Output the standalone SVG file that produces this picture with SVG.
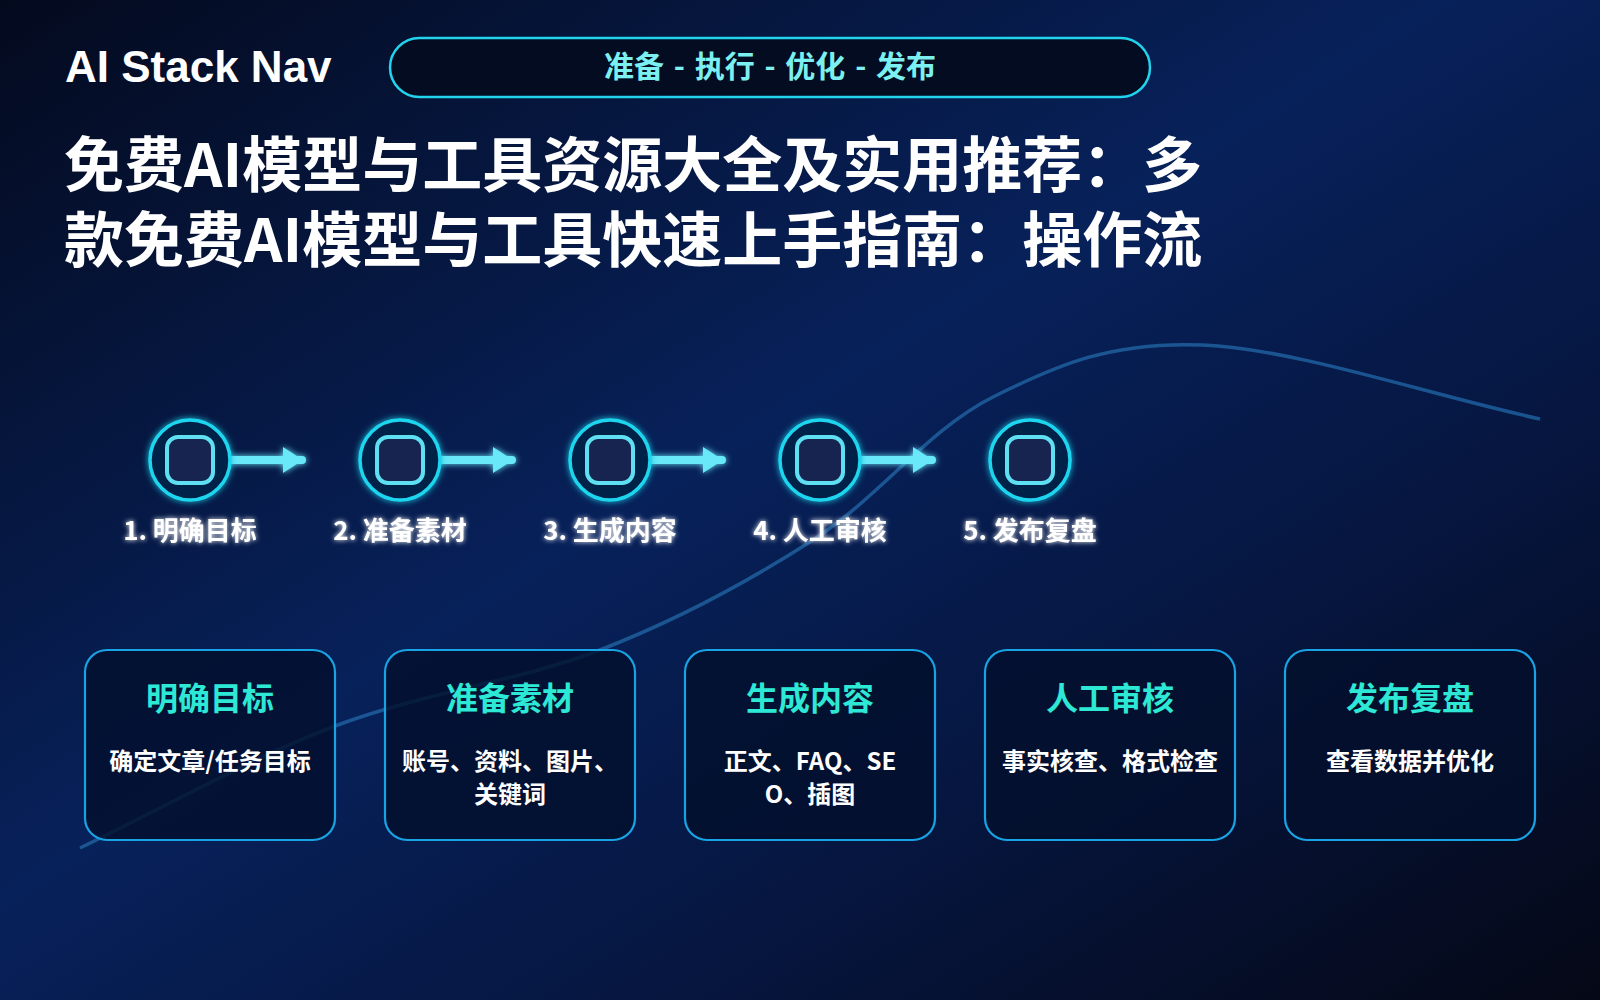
<svg xmlns="http://www.w3.org/2000/svg" width="1600" height="1000" viewBox="0 0 1600 1000">
<defs>
<linearGradient id="bg" x1="0" y1="0" x2="1" y2="1" gradientUnits="objectBoundingBox">
<stop offset="0" stop-color="#040a1e"/>
<stop offset="0.45" stop-color="#07215a"/>
<stop offset="0.7" stop-color="#061640"/>
<stop offset="1" stop-color="#050816"/>
</linearGradient>
<linearGradient id="rule" x1="0" y1="0" x2="1" y2="0">
<stop offset="0" stop-color="#22c8c8"/>
<stop offset="0.6" stop-color="#3a8fd8"/>
<stop offset="1" stop-color="#8a68d8"/>
</linearGradient>
<filter id="glow" x="-50%" y="-50%" width="200%" height="200%">
<feGaussianBlur in="SourceGraphic" stdDeviation="3" result="b"/>
<feMerge><feMergeNode in="b"/><feMergeNode in="SourceGraphic"/></feMerge>
</filter>
<filter id="lglow" filterUnits="userSpaceOnUse" x="0" y="420" width="1600" height="80">
<feGaussianBlur in="SourceGraphic" stdDeviation="3" result="b"/>
<feMerge><feMergeNode in="b"/><feMergeNode in="SourceGraphic"/></feMerge>
</filter>
<filter id="tglow" x="-20%" y="-50%" width="140%" height="200%">
<feGaussianBlur in="SourceGraphic" stdDeviation="2.5" result="b"/>
<feMerge><feMergeNode in="b"/><feMergeNode in="SourceGraphic"/></feMerge>
</filter>
<marker id="ah" viewBox="0 0 20 26" refX="19" refY="13" markerWidth="20" markerHeight="26" markerUnits="userSpaceOnUse" orient="auto">
<path d="M0,0 L20,13 L0,26 Z" fill="#67e8f9"/>
</marker>
</defs>
<style>
.cjk{font-family:"Noto Sans CJK SC","Microsoft YaHei",sans-serif;font-weight:700}
.ring{fill:#042048;stroke:#1fd6f0;stroke-width:3.5}
.sq{fill:#17244f;stroke:#5fe0f2;stroke-width:4}
.lab{font-size:26px;fill:#ffffff;text-anchor:middle}
.card{fill:#020f2c;fill-opacity:0.8;stroke:#18a4e4;stroke-width:2.2}
.ct{font-size:32px;fill:#2ee8d6;text-anchor:middle}
.cb{font-size:24px;fill:#ffffff;text-anchor:middle}
.conn{stroke:#67e8f9;stroke-width:8;stroke-linecap:round;fill:none}
</style>
<rect x="0" y="0" width="1600" height="1000" fill="url(#bg)"/>
<path d="M80,848 C165,807.3 248.3,759 335,726 C421.7,693 520.3,681 600,650 C679.7,619 747.5,582.2 813,540 C878.5,497.8 928,429.5 993,397 C1058,364.5 1111.8,341.3 1203,345 C1294.2,348.7 1427.7,394.3 1540,419" fill="none" stroke="#1f5f9e" stroke-width="3.5" stroke-opacity="0.85"/>
<g id="header">
<text x="65" y="82" font-family="'Liberation Sans',Arial,sans-serif" font-weight="700" font-size="44" fill="#ffffff">AI Stack Nav</text>
<rect x="390" y="38" width="760" height="59" rx="29.5" fill="#040c22" stroke="#22d3ee" stroke-width="2.5"/>
<text x="770" y="77" class="cjk" font-size="30" fill="#7cf0f0" text-anchor="middle" word-spacing="3">准备 - 执行 - 优化 - 发布</text>
</g>
<g id="title" class="cjk" font-size="60" fill="#ffffff">
<text x="64" y="187">免费AI模型与工具资源大全及实用推荐：多</text>
<text x="64" y="262">款免费AI模型与工具快速上手指南：操作流</text>
</g>
<g id="connectors" filter="url(#lglow)">
<line class="conn" x1="226" y1="460" x2="302" y2="460" marker-end="url(#ah)"/>
<line class="conn" x1="436" y1="460" x2="512" y2="460" marker-end="url(#ah)"/>
<line class="conn" x1="646" y1="460" x2="722" y2="460" marker-end="url(#ah)"/>
<line class="conn" x1="856" y1="460" x2="932" y2="460" marker-end="url(#ah)"/>
</g>
<g id="step1"><circle class="ring" cx="190" cy="460" r="40" filter="url(#glow)"/><rect class="sq" x="167" y="437" width="46" height="46" rx="11"/><text class="cjk lab" x="190" y="540" filter="url(#tglow)">1. 明确目标</text></g>
<g id="step2"><circle class="ring" cx="400" cy="460" r="40" filter="url(#glow)"/><rect class="sq" x="377" y="437" width="46" height="46" rx="11"/><text class="cjk lab" x="400" y="540" filter="url(#tglow)">2. 准备素材</text></g>
<g id="step3"><circle class="ring" cx="610" cy="460" r="40" filter="url(#glow)"/><rect class="sq" x="587" y="437" width="46" height="46" rx="11"/><text class="cjk lab" x="610" y="540" filter="url(#tglow)">3. 生成内容</text></g>
<g id="step4"><circle class="ring" cx="820" cy="460" r="40" filter="url(#glow)"/><rect class="sq" x="797" y="437" width="46" height="46" rx="11"/><text class="cjk lab" x="820" y="540" filter="url(#tglow)">4. 人工审核</text></g>
<g id="step5"><circle class="ring" cx="1030" cy="460" r="40" filter="url(#glow)"/><rect class="sq" x="1007" y="437" width="46" height="46" rx="11"/><text class="cjk lab" x="1030" y="540" filter="url(#tglow)">5. 发布复盘</text></g>
<g id="card1"><rect class="card" x="85" y="650" width="250" height="190" rx="22"/><text class="cjk ct" x="210" y="710">明确目标</text><text class="cjk cb" x="210" y="770">确定文章/任务目标</text></g>
<g id="card2"><rect class="card" x="385" y="650" width="250" height="190" rx="22"/><text class="cjk ct" x="510" y="710">准备素材</text><text class="cjk cb" x="510" y="770">账号、资料、图片、</text><text class="cjk cb" x="510" y="803">关键词</text></g>
<g id="card3"><rect class="card" x="685" y="650" width="250" height="190" rx="22"/><text class="cjk ct" x="810" y="710">生成内容</text><text class="cjk cb" x="810" y="770">正文、FAQ、SE</text><text class="cjk cb" x="810" y="803">O、插图</text></g>
<g id="card4"><rect class="card" x="985" y="650" width="250" height="190" rx="22"/><text class="cjk ct" x="1110" y="710">人工审核</text><text class="cjk cb" x="1110" y="770">事实核查、格式检查</text></g>
<g id="card5"><rect class="card" x="1285" y="650" width="250" height="190" rx="22"/><text class="cjk ct" x="1410" y="710">发布复盘</text><text class="cjk cb" x="1410" y="770">查看数据并优化</text></g>
<line x1="48" y1="933" x2="1552" y2="933" stroke="url(#rule)" stroke-width="2.5"/>
</svg>
